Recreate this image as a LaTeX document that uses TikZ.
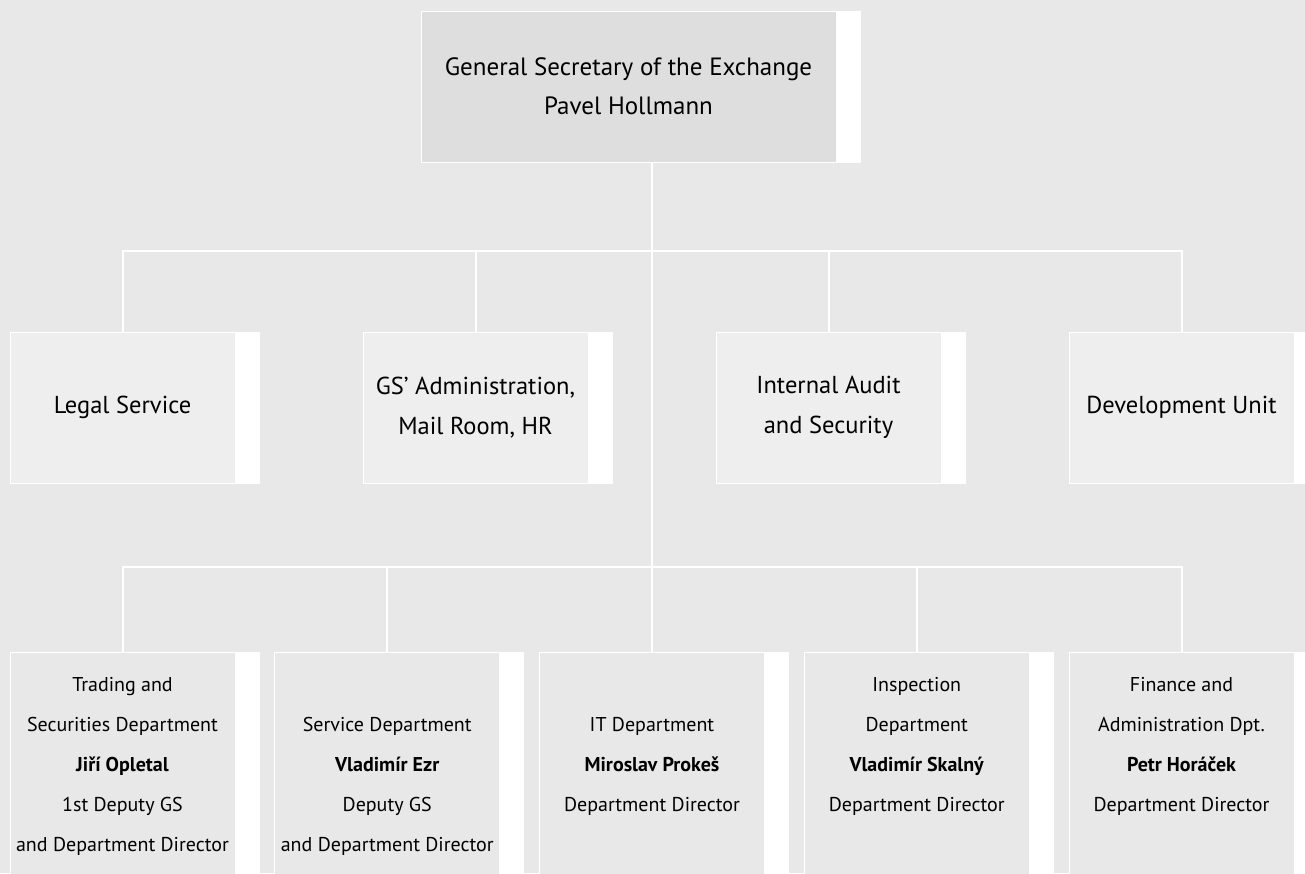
\documentclass[tikz,border=0pt]{standalone}
\usepackage{fontspec}
\setmainfont{PT Sans}
\usepackage{tikz}
\usetikzlibrary{calc}

\definecolor{bgColor}{RGB}{232,232,232}
\definecolor{headColor}{RGB}{222,222,222}
\definecolor{unitColor}{RGB}{238,238,238}
\definecolor{deptColor}{RGB}{232,232,232}

\begin{document}
\begin{tikzpicture}[x=1pt,y=-1pt,
  box/.style={draw=white, line width=1pt, inner sep=0pt, minimum width=225pt, minimum height=151pt, align=center, font=\fontsize{24.5}{40}\selectfont},
  headbox/.style={box, fill=headColor, minimum width=415pt, font=\fontsize{25}{39}\selectfont},
  unitbox/.style={box, fill=unitColor},
  deptbox/.style={box, fill=deptColor, minimum height=240pt},
  depttext/.style={anchor=north, inner sep=0pt, align=center, font=\fontsize{20}{40}\selectfont},
  link/.style={draw=white, line width=2pt}]
\useasboundingbox (0,0) rectangle (1305,873);
\clip (0,0) rectangle (1305,873);
\fill[bgColor] (0,0) rectangle (1305,873);
% head
\node[headbox] (gs) at (628.5,86.5) {General Secretary of the Exchange\\Pavel Hollmann};
% units
\node[unitbox] (legal) at (122.5,407.5) {Legal Service};
\node[unitbox] (admin) at (475.5,407.5) {GS’ Administration,\\Mail Room, HR};
\node[unitbox] (audit) at (828.5,407.5) {Internal Audit\\and Security};
\node[unitbox] (dev) at (1181.5,407.5) {Development Unit};
% departments
\node[deptbox] (trading) at (122.5,772) {};
\node[deptbox] (service) at (387.25,772) {};
\node[deptbox] (it) at (652,772) {};
\node[deptbox] (inspection) at (916.75,772) {};
\node[deptbox] (finance) at (1181.5,772) {};
\node[depttext] (tradingText) at (trading.north) {\rule{0pt}{40pt}Trading and\\Securities Department\\\textbf{Jiří Opletal}\\1st Deputy GS\\and Department Director};
\node[depttext] (serviceText) at (service.north) {\rule{0pt}{80pt}Service Department\\\textbf{Vladimír Ezr}\\Deputy GS\\and Department Director};
\node[depttext] (itText) at (it.north) {\rule{0pt}{80pt}IT Department\\\textbf{Miroslav Prokeš}\\Department Director};
\node[depttext] (inspectionText) at (inspection.north) {\rule{0pt}{40pt}Inspection\\Department\\\textbf{Vladimír Skalný}\\Department Director};
\node[depttext] (financeText) at (finance.north) {\rule{0pt}{40pt}Finance and\\Administration Dpt.\\\textbf{Petr Horáček}\\Department Director};
% white strips
\foreach \n in {gs,legal,admin,audit,dev,trading,service,it,inspection,finance}
  \fill[white] (\n.north east) rectangle ([xshift=24pt]\n.south east);
% connectors
\coordinate (upperBus) at (652,251);
\coordinate (lowerBus) at (652,567);
\draw[link] (gs.south -| it.north) -- (it.north);
\draw[link] (legal.north) |- (upperBus -| dev.north) -- (dev.north);
\foreach \n in {admin,audit}
  \draw[link] (\n.north) -- (\n.north |- upperBus);
\draw[link] (trading.north) |- (lowerBus -| finance.north) -- (finance.north);
\foreach \n in {service,inspection}
  \draw[link] (\n.north) -- (\n.north |- lowerBus);
\end{tikzpicture}
\end{document}
